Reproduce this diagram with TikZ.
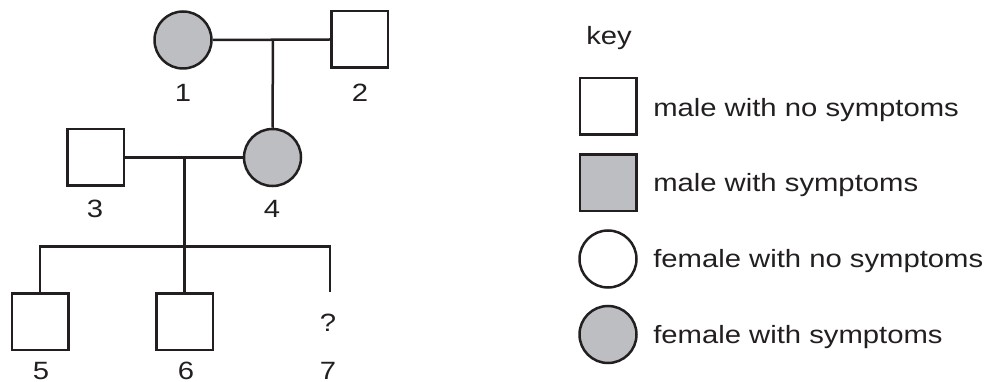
\documentclass[tikz,border=0pt]{standalone}
\usepackage{fontspec}
\setmainfont{Liberation Sans}[FakeStretch=1.17]
\definecolor{affgrey}{RGB}{189,190,193}
\definecolor{inkc}{RGB}{35,31,32}
\begin{document}
\begin{tikzpicture}[x=1pt,y=-1pt,
  line width=2.5pt,
  link/.style={draw=inkc,line width=2.5pt},
  malebox/.style={draw=inkc,line width=2.5pt,rectangle,minimum size=56.5pt,inner sep=0pt,fill=white},
  femcirc/.style={draw=inkc,line width=2.5pt,circle,minimum size=57pt,inner sep=0pt,fill=white},
  aff/.style={fill=affgrey},
  lbl/.style={inner sep=0pt,anchor=base,font=\fontsize{25}{30}\selectfont,text=inkc},
  keytxt/.style={inner sep=0pt,anchor=base west,font=\fontsize{25}{30}\selectfont,text=inkc}]
\useasboundingbox (0,0) rectangle (988,382);
% generation I
\node[femcirc,aff] (p1) at (183,40) {};
\node[malebox] (p2) at (359.5,39.5) {};
% generation II
\node[malebox] (p3) at (95.5,157.5) {};
\node[femcirc,aff] (p4) at (272.5,157.5) {};
% generation III
\node[malebox] (p5) at (40,321.5) {};
\node[malebox] (p6) at (184.5,321.5) {};
\node[lbl] (q7) at (328,331) {?};
\coordinate (c7) at (330,292);
% labels
\node[lbl] (l1) at (183,101.7) {1};
\node[lbl] (l2) at (360,101.7) {2};
\node[lbl] (l3) at (95,218) {3};
\node[lbl] (l4) at (272,218) {4};
\node[lbl] (l5) at (41,379) {5};
\node[lbl] (l6) at (186,379) {6};
\node[lbl] (l7) at (328,379) {7};
% connectors
\coordinate (m1) at (273,40);
\coordinate (m2) at (184.5,157.5);
\coordinate (bar) at (184.5,246.5);
\draw[link] (p1.east) -- (p2.west);
\draw[link] (m1) -- (p4.north);
\draw[link] (p3.east) -- (p4.west);
\draw[link] (m2) -- (p6.north);
\draw[link] (p5.north) -- (p5.north |- bar) -- (c7 |- bar) -- (c7);
% key
\node[keytxt] (key) at (585,44.3) {key};
\node[malebox] (k1) at (608,106.5) {};
\node[malebox,aff] (k2) at (608,183) {};
\node[femcirc] (k3) at (608,259) {};
\node[femcirc,aff] (k4) at (608,334.5) {};
\node[keytxt] (t1) at (652,116.7) {male with no symptoms};
\node[keytxt] (t2) at (652,191.7) {male with symptoms};
\node[keytxt] (t3) at (652,268) {female with no symptoms};
\node[keytxt] (t4) at (652,343) {female with symptoms};
\end{tikzpicture}
\end{document}
